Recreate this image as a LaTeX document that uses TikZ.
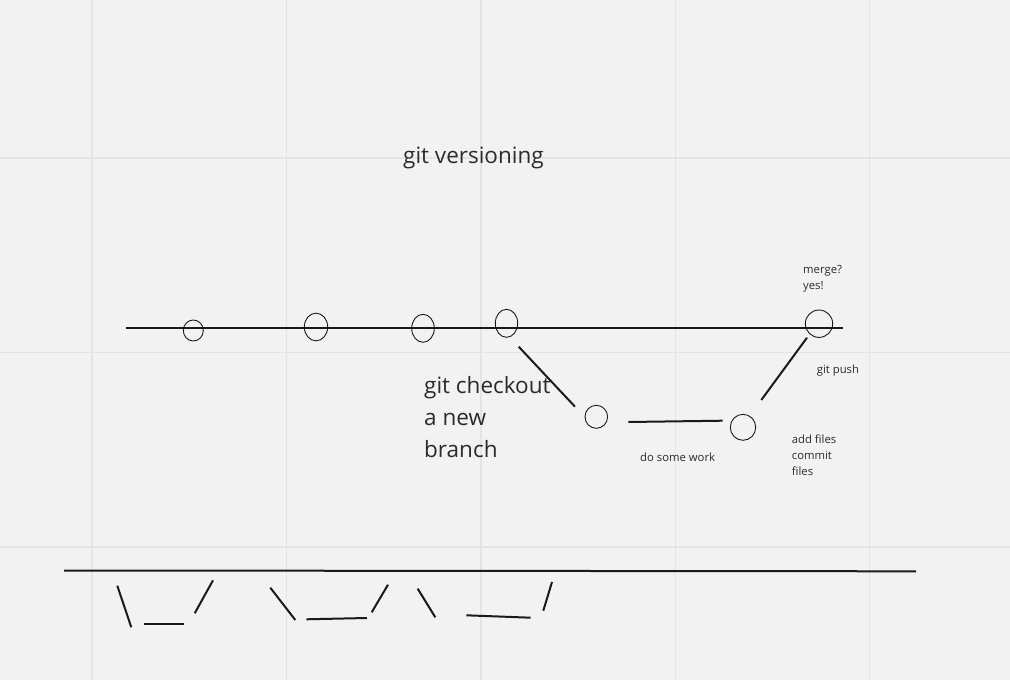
\documentclass[tikz,border=0pt]{standalone}
\usepackage{fontspec}
\setmainfont{Open Sans}
\usetikzlibrary{shapes.geometric}
\definecolor{bg}{HTML}{F2F2F2}
\definecolor{gridc}{HTML}{E4E4E4}
\definecolor{ink}{HTML}{1A1A1A}
\definecolor{txt}{HTML}{2B2B2B}
\tikzset{
  commit/.style={draw=ink, ellipse, line width=0.9pt, inner sep=0pt},
  stroke/.style={draw=ink, line width=2pt},
  bigtxt/.style={anchor=base west, inner sep=0pt, text=txt, align=left, font=\fontsize{22.5}{32}\selectfont},
  smalltxt/.style={anchor=base west, inner sep=0pt, text=txt, align=left, font=\fontsize{11.3}{16}\selectfont},
  gridline/.style={draw=gridc, line width=1.6pt}
}
\begin{document}
\begin{tikzpicture}[x=1pt,y=-1pt]
\fill[bg] (0,0) rectangle (1010,680);
\useasboundingbox (0,0) rectangle (1010,680);
% grid
\foreach \gx in {92,286.5,481,675.3,869.5} \draw[gridline] (\gx,0) -- (\gx,680);
\foreach \gy in {158,352.5,547} \draw[gridline] (0,\gy) -- (1010,\gy);
% title
\node[bigtxt] (title) at (403,163) {git versioning};
% main line
\coordinate (mL) at (126,328.3);
\coordinate (mR) at (843.3,328.3);
\draw[stroke] (mL) -- (mR);
% commits
\node[commit, minimum width=20pt, minimum height=21pt] (c1) at (193.3,330.5) {};
\node[commit, minimum width=23.4pt, minimum height=27.7pt] (c2) at (316,327) {};
\node[commit, minimum width=22.6pt, minimum height=28pt] (c3) at (423,328.3) {};
\node[commit, minimum width=22.4pt, minimum height=28pt] (c4) at (506.5,323.3) {};
\node[commit, minimum width=27.4pt, minimum height=27.4pt] (c5) at (819,323.7) {};
\node[commit, minimum width=22.6pt, minimum height=23pt] (c6) at (596.3,416.8) {};
\node[commit, minimum width=25.4pt, minimum height=26pt] (c7) at (743,427.3) {};
% branch connectors
\coordinate (b1) at (518.7,346.7);
\coordinate (b2) at (575,406.7);
\draw[stroke] (b1) -- (b2);
\coordinate (w1) at (628.3,422);
\coordinate (w2) at (722.7,420.7);
\draw[stroke] (w1) -- (w2);
\coordinate (p1) at (761.3,400);
\coordinate (p2) at (807,337.7);
\draw[stroke] (p1) -- (p2);
% labels (multi-line nodes: base = last line)
\node[bigtxt] (lcheckout) at (424,457.5) {git checkout\\a new\\branch};
\node[smalltxt] (lmerge) at (803,289.5) {merge?\\yes!};
\node[smalltxt] (lpush) at (816.7,373) {git push};
\node[smalltxt] (ladd) at (791.7,475.3) {add files\\commit\\files};
\node[smalltxt] (lwork) at (640,461.5) {do some work};
% bottom sketch
\coordinate (bL) at (64,570.5);
\coordinate (bR) at (916,571.3);
\draw[stroke] (bL) -- (bR);
\coordinate (s1a) at (117.3,585.7); \coordinate (s1b) at (131.3,627.3);
\coordinate (s2a) at (143.7,623.7); \coordinate (s2b) at (183.7,623.7);
\coordinate (s3a) at (194.7,613.3); \coordinate (s3b) at (213,580.3);
\coordinate (s4a) at (270.3,587.7); \coordinate (s4b) at (295.3,620);
\coordinate (s5a) at (306.3,619.3); \coordinate (s5b) at (367,618);
\coordinate (s6a) at (371.7,612.3); \coordinate (s6b) at (388,584.7);
\coordinate (s7a) at (417.7,588.7); \coordinate (s7b) at (435.3,617.3);
\coordinate (s8a) at (466.3,615.3); \coordinate (s8b) at (530.7,617.7);
\coordinate (s9a) at (543.3,610.7); \coordinate (s9b) at (552,582);
\foreach \s in {1,...,9} \draw[stroke] (s\s a) -- (s\s b);
\end{tikzpicture}
\end{document}
